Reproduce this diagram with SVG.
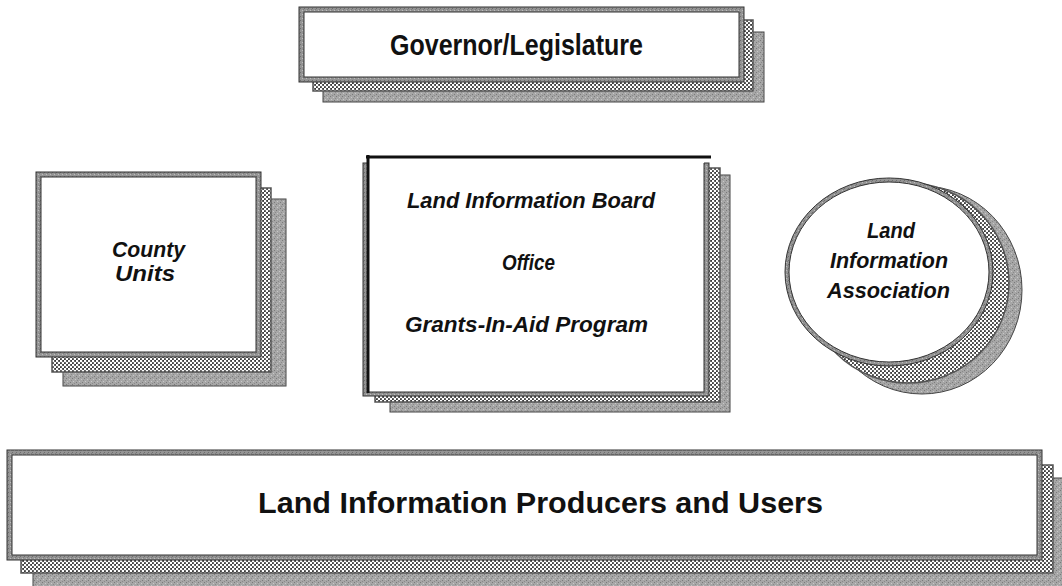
<svg xmlns="http://www.w3.org/2000/svg" width="1062" height="586" viewBox="0 0 1062 586">
<defs>
<pattern id="dots" width="4" height="4" patternUnits="userSpaceOnUse">
<rect width="4" height="4" fill="#3a3a3a"/>
<circle cx="1" cy="1" r="1.3" fill="#fff"/>
<circle cx="3" cy="3" r="1.3" fill="#fff"/>
</pattern>
<pattern id="speck" width="6" height="6" patternUnits="userSpaceOnUse">
<rect width="6" height="6" fill="#a6a6a6"/>
<rect x="0" y="0" width="1" height="1" fill="#7a7a7a"/>
<rect x="3" y="1" width="1" height="1" fill="#c8c8c8"/>
<rect x="1" y="3" width="1" height="1" fill="#c8c8c8"/>
<rect x="4" y="4" width="1" height="1" fill="#7a7a7a"/>
<rect x="2" y="5" width="1" height="1" fill="#8a8a8a"/>
<rect x="5" y="2" width="1" height="1" fill="#8a8a8a"/>
</pattern>
<pattern id="frame" width="4" height="4" patternUnits="userSpaceOnUse">
<rect width="4" height="4" fill="#949494"/>
<rect x="0" y="0" width="1" height="1" fill="#6e6e6e"/>
<rect x="2" y="2" width="1" height="1" fill="#bdbdbd"/>
<rect x="3" y="1" width="1" height="1" fill="#7c7c7c"/>
</pattern>
</defs>
<style>
.sh{fill:url(#speck);stroke:#444;stroke-width:1}
.dt{fill:url(#dots);stroke:#555;stroke-width:1.5}
.fr{fill:url(#frame);stroke:#333;stroke-width:1}
.in{fill:#fff;stroke:#333;stroke-width:1}
.t{font-family:"Liberation Sans",Arial,Helvetica,sans-serif;font-weight:bold;fill:#111;text-anchor:start}
.it{font-style:italic}
</style>
<rect width="1062" height="586" fill="#fff"/>
<g id="connectors"/>
<g id="governor">
<rect class="sh" x="323" y="32" width="441" height="70"/>
<rect class="dt" x="313" y="20" width="440" height="71"/>
<rect class="fr" x="299" y="7" width="445" height="75"/>
<rect class="in" x="304" y="12" width="435" height="65"/>
<text class="t" x="390" y="55" font-size="29" textLength="253" lengthAdjust="spacingAndGlyphs">Governor/Legislature</text>
</g>
<g id="county">
<rect class="sh" x="63" y="199" width="223" height="187"/>
<rect class="dt" x="52" y="188" width="219" height="184"/>
<rect class="fr" x="36" y="172" width="225" height="185"/>
<rect class="in" x="41" y="177" width="215" height="175"/>
<text class="t it" x="112" y="257" font-size="22" textLength="73" lengthAdjust="spacingAndGlyphs">County</text>
<text class="t it" x="115" y="281" font-size="22" textLength="60" lengthAdjust="spacingAndGlyphs">Units</text>
</g>
<g id="board">
<rect class="sh" x="390" y="175" width="340" height="237"/>
<rect class="dt" x="375" y="168" width="345" height="234"/>
<rect class="fr" x="363" y="163" width="346" height="233"/>
<rect x="368" y="156" width="336" height="236" fill="#fff"/>
<polyline points="704,163 704,392 368,392" fill="none" stroke="#333" stroke-width="1"/>
<line x1="366" y1="157" x2="711" y2="157" stroke="#111" stroke-width="3"/>
<line x1="368" y1="155" x2="368" y2="393" stroke="#111" stroke-width="3"/>
<text class="t it" x="407" y="208" font-size="22" textLength="248" lengthAdjust="spacingAndGlyphs">Land Information Board</text>
<text class="t it" x="502" y="270" font-size="22" textLength="53" lengthAdjust="spacingAndGlyphs">Office</text>
<text class="t it" x="405" y="332" font-size="22" textLength="243" lengthAdjust="spacingAndGlyphs">Grants-In-Aid Program</text>
</g>
<g id="association">
<ellipse class="sh" cx="922" cy="290" rx="100" ry="104"/>
<ellipse class="dt" cx="908" cy="283" rx="101" ry="100"/>
<ellipse class="fr" cx="889" cy="272" rx="104" ry="94"/>
<ellipse class="in" cx="889" cy="272" rx="100" ry="90"/>
<text class="t it" x="867" y="238" font-size="22" textLength="48" lengthAdjust="spacingAndGlyphs">Land</text>
<text class="t it" x="830" y="268" font-size="22" textLength="118" lengthAdjust="spacingAndGlyphs">Information</text>
<text class="t it" x="827" y="298" font-size="22" textLength="123" lengthAdjust="spacingAndGlyphs">Association</text>
</g>
<g id="producers">
<rect class="sh" x="33" y="478" width="1040" height="130"/>
<rect class="dt" x="21" y="465" width="1032" height="108"/>
<rect class="fr" x="7" y="450" width="1035" height="110"/>
<rect class="in" x="12" y="455" width="1025" height="100"/>
<text class="t" x="258" y="513" font-size="29" textLength="565" lengthAdjust="spacingAndGlyphs">Land Information Producers and Users</text>
</g>
</svg>
